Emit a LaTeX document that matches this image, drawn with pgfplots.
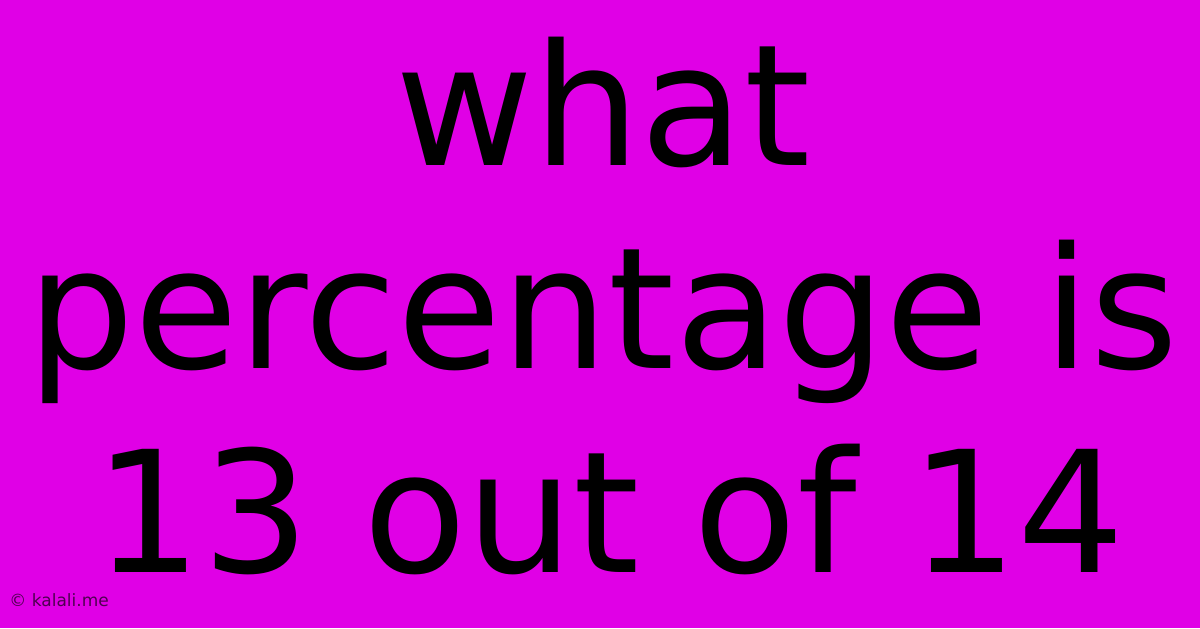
\documentclass[border=0pt]{standalone}
\usepackage{fontspec}
\setmainfont{DejaVu Sans}
\usepackage{pgfplots}
\pgfplotsset{compat=1.18}
\definecolor{bg}{HTML}{E000E6}

\begin{document}
\begin{tikzpicture}
\begin{axis}[
    hide axis,
    scale only axis,
    width=600pt,
    height=314pt,
    xmin=0, xmax=1200,
    ymin=0, ymax=628,
    y dir=reverse,
    clip=false,
]
% background
\fill[bg] (rel axis cs:0,0) rectangle (rel axis cs:1,1);
% headline, baselines read off in pixels
\node[anchor=base, font=\fontsize{84.5}{100}\selectfont] at (axis cs:603,165) {what};
\node[anchor=base, font=\fontsize{84.5}{100}\selectfont] at (axis cs:603,368) {percentage is};
\node[anchor=base, font=\fontsize{84.5}{100}\selectfont] at (axis cs:610,572) {13 out of 14};
% watermark
\node[anchor=base west, inner sep=0pt, text=black, text opacity=0.65,
      font=\fontsize{8.5}{10}\selectfont] at (axis cs:9,606) {©\ kalali.me};
\end{axis}
\end{tikzpicture}
\end{document}
